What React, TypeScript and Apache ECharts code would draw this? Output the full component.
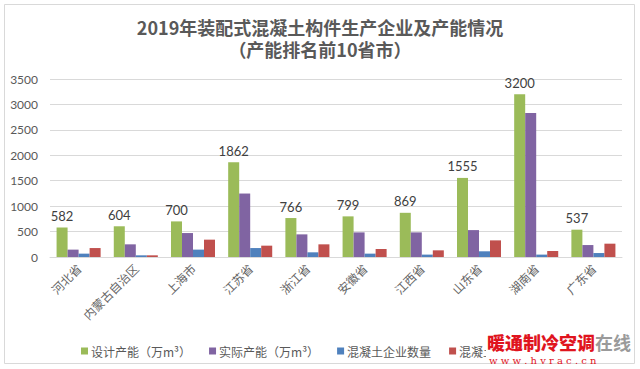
import React, { useEffect, useRef } from "react";
import * as echarts from "echarts";

const categories = ["河北省", "内蒙古自治区", "上海市", "江苏省", "浙江省", "安徽省", "江西省", "山东省", "湖南省", "广东省"];
const designCapacity = [582, 604, 700, 1862, 766, 799, 869, 1555, 3200, 537];
const actualCapacity = [145, 249, 471, 1248, 445, 484, 484, 529, 2830, 235];
const concreteEnterprises = [66, 33, 145, 176, 92, 66, 47, 112, 47, 78];
const componentEnterprises = [176, 33, 341, 223, 249, 157, 131, 327, 118, 262];
const seriesNames = ["设计产能（万m³）", "实际产能（万m³）", "混凝土企业数量", "混凝土构件企业数量"];
const titleLines = ["2019年装配式混凝土构件生产企业及产能情况", "（产能排名前10省市）"];

const colors = ["#9BBB59", "#8064A2", "#4F81BD", "#C0504D"];

export default function App() {
  const ref = useRef<HTMLDivElement>(null);
  useEffect(() => {
    document.body.style.margin = "0";
    const chart = echarts.init(ref.current!, null, { renderer: "svg" });
    const cjk = "'Noto Sans CJK SC', sans-serif";
    const titleStyle = { color: "#595959", fontSize: 18, fontWeight: "bold", fontFamily: cjk, lineHeight: 20 };
    const mk = (i: number, data: number[], label = false) => ({
      name: seriesNames[i],
      type: "bar",
      data,
      barGap: "0%",
      barCategoryGap: "23%",
      itemStyle: { color: colors[i] },
      label: label
        ? { show: true, position: "top", distance: 5, color: "#404040", fontSize: 13, fontFamily: "Lato" }
        : { show: false },
    });
    chart.setOption({
      animation: false,
      backgroundColor: "#ffffff",
      title: [
        { text: titleLines[0], left: "center", top: 17, padding: 0, textStyle: titleStyle },
        { text: titleLines[1], left: "center", top: 39, padding: 0, textStyle: titleStyle },
      ],
      grid: { left: 50, right: 18, top: 79, bottom: 112, containLabel: false },
      legend: {
        left: 76,
        top: 340,
        width: 600,
        itemWidth: 7,
        itemHeight: 7,
        itemGap: 18,
        icon: "rect",
        textStyle: { color: "#595959", fontSize: 12, fontFamily: cjk, padding: [0, 0, 0, -2] },
        data: seriesNames,
      },
      xAxis: {
        type: "category",
        data: categories,
        axisTick: { show: false },
        axisLine: { lineStyle: { color: "#d9d9d9" } },
        axisLabel: { rotate: 45, color: "#666666", fontSize: 12, fontFamily: cjk, margin: 9, interval: 0 },
      },
      yAxis: {
        type: "value",
        min: 0,
        max: 3500,
        interval: 500,
        axisLine: { show: false },
        axisTick: { show: false },
        splitLine: { lineStyle: { color: "#d9d9d9" } },
        axisLabel: { color: "#595959", fontSize: 12, fontFamily: "Lato", margin: 12, formatter: (v: number) => String(v) },
      },
      series: [
        mk(0, designCapacity, true),
        mk(1, actualCapacity),
        mk(2, concreteEnterprises),
        mk(3, componentEnterprises),
      ],
      graphic: [
        {
          type: "rect",
          shape: { x: 4.5, y: 4.5, width: 630, height: 359 },
          style: { fill: "none", stroke: "#d9d9d9", lineWidth: 1 },
          z: 90,
        },
        {
          type: "rect",
          shape: { x: 486, y: 333, width: 147, height: 30 },
          style: { fill: "#ffffff" },
          z: 100,
        },
        {
          type: "text",
          x: 487,
          y: 342,
          z: 101,
          style: {
            text: "暖通制冷空调",
            fill: "#e0141e",
            fontSize: 18,
            fontWeight: 900,
            fontFamily: cjk,
            verticalAlign: "middle",
          },
        },
        {
          type: "text",
          x: 595,
          y: 342,
          z: 101,
          style: {
            text: "在线",
            fill: "#9a9a9a",
            fontSize: 18,
            fontWeight: "bold",
            fontFamily: cjk,
            verticalAlign: "middle",
          },
        },
        {
          type: "text",
          x: 489,
          y: 360,
          z: 101,
          style: {
            text: "w w w . h v r a c . c n",
            fill: "#e0141e",
            fontSize: 10,
            fontFamily: "'DejaVu Serif', serif",
            verticalAlign: "middle",
          },
        },
      ],
    });
    return () => chart.dispose();
  }, []);
  return <div ref={ref} style={{ width: 640, height: 369 }} />;
}
